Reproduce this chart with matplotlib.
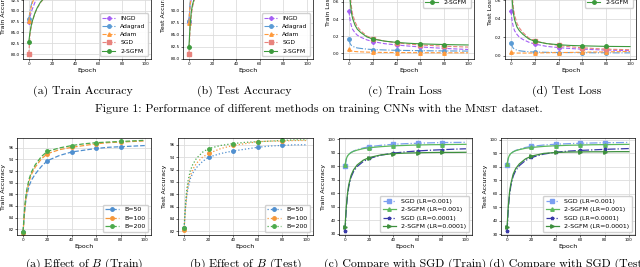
import numpy as np
import matplotlib
matplotlib.use("Agg")
import matplotlib.pyplot as plt

plt.rcParams['mathtext.fontset'] = 'cm'

epochs = [0, 1, 2, 3, 5, 7, 10, 15, 20, 30, 40, 50, 60, 70, 80, 90, 100]
mark_at = [0, 8, 10, 12, 14]   # markers at epoch 0, 20, 40, 60, 80

methods = ['INGD', 'Adagrad', 'Adam', 'SGD', '2-SGFM']

train_acc = {
    'INGD':    [87.3, 88.6, 89.6, 90.4, 91.8, 93.0, 94.2, 95.3, 96.0, 96.8, 97.3, 97.6, 97.9, 98.1, 98.3, 98.4, 98.5],
    'Adagrad': [88.0, 90.0, 91.3, 92.2, 93.5, 94.4, 95.4, 96.4, 97.0, 97.7, 98.1, 98.4, 98.6, 98.7, 98.8, 98.9, 99.0],
    'Adam':    [87.6, 89.5, 90.8, 91.8, 93.2, 94.2, 95.2, 96.3, 97.0, 97.8, 98.3, 98.6, 98.8, 99.0, 99.1, 99.2, 99.2],
    'SGD':     [80.0, 84.5, 86.3, 87.5, 89.2, 90.5, 91.9, 93.4, 94.4, 95.6, 96.3, 96.8, 97.1, 97.4, 97.6, 97.7, 97.8],
    '2-SGFM':  [82.9, 85.0, 86.5, 87.6, 89.3, 90.6, 92.0, 93.5, 94.5, 95.8, 96.6, 97.1, 97.5, 97.8, 98.0, 98.2, 98.3],
}
test_acc = {
    'INGD':    [87.8, 91.0, 92.5, 93.3, 94.3, 95.0, 95.6, 96.3, 96.7, 97.2, 97.5, 97.7, 97.8, 97.9, 98.0, 98.1, 98.2],
    'Adagrad': [88.0, 91.5, 93.0, 93.8, 94.8, 95.4, 96.0, 96.7, 97.1, 97.6, 98.0, 98.2, 98.3, 98.4, 98.5, 98.5, 98.6],
    'Adam':    [87.6, 91.3, 92.9, 93.8, 94.9, 95.5, 96.2, 96.9, 97.3, 97.8, 98.1, 98.3, 98.4, 98.5, 98.5, 98.6, 98.6],
    'SGD':     [81.0, 86.0, 89.0, 90.8, 92.6, 93.6, 94.5, 95.4, 95.9, 96.5, 96.9, 97.2, 97.4, 97.5, 97.6, 97.7, 97.8],
    '2-SGFM':  [82.5, 87.0, 89.8, 91.3, 93.0, 94.0, 94.9, 95.8, 96.3, 96.9, 97.3, 97.5, 97.7, 97.8, 97.9, 98.0, 98.0],
}
train_loss = {
    'INGD':    [0.49, 0.38, 0.32, 0.28, 0.24, 0.21, 0.185, 0.155, 0.135, 0.11, 0.095, 0.082, 0.072, 0.063, 0.055, 0.048, 0.042],
    'Adagrad': [0.16, 0.11, 0.09, 0.08, 0.068, 0.06, 0.054, 0.046, 0.041, 0.036, 0.032, 0.030, 0.028, 0.026, 0.025, 0.024, 0.023],
    'Adam':    [0.045, 0.03, 0.025, 0.022, 0.018, 0.016, 0.014, 0.011, 0.009, 0.007, 0.006, 0.005, 0.004, 0.004, 0.003, 0.003, 0.003],
    'SGD':     [1.0, 0.70, 0.55, 0.46, 0.37, 0.31, 0.26, 0.20, 0.17, 0.14, 0.12, 0.105, 0.095, 0.088, 0.08, 0.075, 0.07],
    '2-SGFM':  [0.95, 0.62, 0.48, 0.41, 0.33, 0.28, 0.24, 0.19, 0.165, 0.14, 0.125, 0.115, 0.108, 0.104, 0.10, 0.097, 0.095],
}
test_loss = {
    'INGD':    [0.48, 0.37, 0.31, 0.27, 0.23, 0.20, 0.175, 0.145, 0.125, 0.10, 0.087, 0.077, 0.07, 0.065, 0.06, 0.057, 0.054],
    'Adagrad': [0.14, 0.10, 0.08, 0.07, 0.06, 0.053, 0.048, 0.042, 0.039, 0.036, 0.034, 0.033, 0.032, 0.031, 0.031, 0.03, 0.03],
    'Adam':    [0.04, 0.032, 0.03, 0.029, 0.028, 0.028, 0.028, 0.028, 0.029, 0.031, 0.033, 0.035, 0.037, 0.039, 0.041, 0.043, 0.045],
    'SGD':     [0.95, 0.66, 0.52, 0.44, 0.35, 0.30, 0.25, 0.19, 0.16, 0.13, 0.11, 0.095, 0.085, 0.077, 0.07, 0.067, 0.064],
    '2-SGFM':  [0.92, 0.60, 0.46, 0.39, 0.31, 0.27, 0.23, 0.18, 0.155, 0.13, 0.118, 0.11, 0.106, 0.103, 0.10, 0.099, 0.098],
}

batch_labels = ['B=50', 'B=100', 'B=200']
b_train = {
    'B=50':  [81.6, 84.5, 86.5, 87.8, 89.5, 90.5, 91.5, 92.8, 93.8, 94.7, 95.3, 95.6, 95.9, 96.1, 96.2, 96.3, 96.4],
    'B=100': [81.3, 84.5, 86.8, 88.3, 90.3, 91.5, 92.7, 94.1, 95.0, 95.7, 96.1, 96.4, 96.7, 96.9, 97.0, 97.1, 97.2],
    'B=200': [81.6, 85.0, 87.3, 88.8, 90.7, 91.9, 93.1, 94.5, 95.4, 96.0, 96.4, 96.7, 96.9, 97.0, 97.1, 97.2, 97.3],
}
b_test = {
    'B=50':  [82.5, 85.5, 87.5, 88.8, 90.5, 91.4, 92.3, 93.3, 94.0, 94.6, 95.0, 95.3, 95.6, 95.8, 95.9, 96.0, 96.0],
    'B=100': [82.2, 85.5, 87.7, 89.2, 91.0, 92.0, 93.0, 94.0, 94.6, 95.4, 95.9, 96.2, 96.5, 96.6, 96.6, 96.7, 96.7],
    'B=200': [82.6, 86.3, 88.5, 90.0, 91.8, 92.8, 93.8, 94.8, 95.4, 95.9, 96.2, 96.4, 96.5, 96.6, 96.7, 96.8, 96.8],
}

lr_labels = ['SGD (LR=0.001)', '2-SGFM (LR=0.001)', 'SGD (LR=0.0001)', '2-SGFM (LR=0.0001)']
lr_train = {
    'SGD (LR=0.001)':     [80, 85, 87.5, 88.8, 90.3, 91.3, 92.3, 93.6, 94.5, 95.6, 96.3, 96.8, 97.1, 97.4, 97.6, 97.7, 97.8],
    '2-SGFM (LR=0.001)':  [81, 85.5, 87.6, 88.8, 90.2, 91.1, 92.0, 93.1, 93.8, 94.6, 95.2, 95.5, 95.8, 96.0, 96.1, 96.2, 96.3],
    'SGD (LR=0.0001)':    [32, 48, 58, 64.5, 72, 76, 79.8, 83.5, 85.8, 88.3, 89.8, 90.7, 91.4, 91.9, 92.3, 92.7, 93.0],
    '2-SGFM (LR=0.0001)': [35, 50, 59.5, 66, 73.3, 77.3, 81, 84.5, 86.5, 88.5, 89.4, 89.8, 90.0, 90.2, 90.3, 90.3, 90.4],
}
lr_test = {
    'SGD (LR=0.001)':     [81, 86, 88.3, 89.6, 91, 92, 92.9, 94.2, 95.0, 96.0, 96.6, 97.0, 97.3, 97.5, 97.7, 97.8, 97.9],
    '2-SGFM (LR=0.001)':  [82, 86.5, 88.5, 89.7, 91, 91.8, 92.6, 93.6, 94.2, 95.0, 95.5, 95.8, 96.0, 96.2, 96.3, 96.4, 96.5],
    'SGD (LR=0.0001)':    [32.5, 49, 59, 65.5, 73, 77, 80.7, 84.5, 86.8, 89.3, 90.7, 91.5, 92.0, 92.4, 92.8, 93.1, 93.4],
    '2-SGFM (LR=0.0001)': [35.5, 51, 61, 67, 74.5, 78.5, 82, 85.7, 87.8, 89.8, 90.5, 90.8, 90.9, 91.0, 91.0, 91.1, 91.1],
}

# styles
method_style = {
    'INGD':    dict(color='#a55ff5', ls='--', marker='P'),
    'Adagrad': dict(color='#5a9bd5', ls='-.', marker='o'),
    'Adam':    dict(color='#ff9a3c', ls='--', marker='^'),
    'SGD':     dict(color='#e8837d', ls='--', marker='s'),
    '2-SGFM':  dict(color='#3c9a3c', ls='-', marker='o'),
}
batch_colors = {'B=50': '#4f8fcf', 'B=100': '#f5973a', 'B=200': '#4caa4c'}
lr_style = {
    'SGD (LR=0.001)':     dict(color='#7b9ff0', ls='-.', marker='s'),
    '2-SGFM (LR=0.001)':  dict(color='#5cb85c', ls='-', marker='^'),
    'SGD (LR=0.0001)':    dict(color='#3a3aa8', ls='-.', marker='*'),
    '2-SGFM (LR=0.0001)': dict(color='#3d8f3d', ls='-', marker='>'),
}

W, H = 640, 267
fig = plt.figure(figsize=(W / 100, H / 100), dpi=100)
fig.patch.set_facecolor('white')


def px_axes(left, top, right, bottom):
    return fig.add_axes([left / W, 1 - bottom / H, (right - left) / W, (bottom - top) / H])


def style_axes(ax, ylabel, ylim):
    ax.set_xlim(-5, 105)
    ax.set_ylim(*ylim)
    ax.set_xticks([0, 20, 40, 60, 80, 100])
    ax.grid(True, color='#dddddd', linewidth=0.6)
    ax.set_axisbelow(True)
    ax.tick_params(labelsize=3.0, length=1.5, width=0.4, pad=1)
    for s in ax.spines.values():
        s.set_linewidth(0.5)
    ax.set_xlabel('Epoch', fontsize=4.5, labelpad=1)
    ax.set_ylabel(ylabel, fontsize=4.5, labelpad=1.5)


def legend(ax, loc, size=4.3):
    ax.legend(loc=loc, fontsize=size, handlelength=2.2, borderpad=0.4,
              labelspacing=0.5, framealpha=0.9, edgecolor='#cccccc')


# top row
top_panels = [
    (train_acc, 'Train Accuracy', (78.85, 101.3), (23, 151), 'lower right', '(a) Train Accuracy'),
    (test_acc, 'Test Accuracy', (80.0, 100.2), (183, 313), 'lower right', '(b) Test Accuracy'),
    (train_loss, 'Train Loss', (-0.07, 1.07), (343, 474), 'upper right', '(c) Train Loss'),
    (test_loss, 'Test Loss', (-0.036, 1.01), (505, 636), 'upper right', '(d) Test Loss'),
]
for data, ylabel, ylim, (l, r), loc, cap in top_panels:
    ax = px_axes(l, 59 - 97, r, 59)
    for m in methods:
        st = method_style[m]
        ax.plot(epochs, data[m], color=st['color'], ls=st['ls'], marker=st['marker'],
                markevery=mark_at, markersize=2.5, linewidth=0.8, label=m)
    style_axes(ax, ylabel, ylim)
    legend(ax, loc)
    fig.text(((l + r) / 2 - 4) / W, 1 - 91 / H, cap, fontsize=8.5, family='cmr10',
             ha='center', va='center')

# figure caption with small caps MNIST
cap1 = fig.text(95 / W, 1 - 112 / H, 'Figure 1: Performance of different methods on training CNNs with the M',
                fontsize=8.5, family='cmr10', va='baseline')
a2 = plt.annotate('NIST', xy=(1, 0), xycoords=cap1, fontsize=6.6, family='cmr10',
                  va='bottom', annotation_clip=False)
plt.annotate(' dataset.', xy=(1, 0), xycoords=a2, fontsize=8.5, family='cmr10',
             va='bottom', annotation_clip=False)

# bottom row
bottom_panels = [
    (b_train, batch_labels, 'Train Accuracy', (81.0, 97.7), (17, 151), 'Train'),
    (b_test, batch_labels, 'Test Accuracy', (81.4, 97.1), (178, 313), 'Test'),
]
for idx, (data, labels, ylabel, ylim, (l, r), which) in enumerate(bottom_panels):
    ax = px_axes(l, 138, r, 235)
    ls = '--' if which == 'Train' else ':'
    for lab in labels:
        ax.plot(epochs, data[lab], color=batch_colors[lab], ls=ls, marker='o',
                markevery=mark_at, markersize=2.5, linewidth=0.9, label=lab)
    style_axes(ax, ylabel, ylim)
    legend(ax, 'lower right', 4.5)
    letter = 'ab'[idx]
    fig.text(((l + r) / 2) / W, 1 - 264 / H, '(%s) Effect of $B$ (%s)' % (letter, which),
             fontsize=8.5, family='cmr10', ha='center', va='center')

lr_panels = [
    (lr_train, 'Train Accuracy', (29.0, 101.0), (339, 472), 'Train', 'c'),
    (lr_test, 'Test Accuracy', (29.5, 101.2), (501, 635), 'Test', 'd'),
]
for data, ylabel, ylim, (l, r), which, letter in lr_panels:
    ax = px_axes(l, 138, r, 235)
    for lab in lr_labels:
        st = lr_style[lab]
        ax.plot(epochs, data[lab], color=st['color'], ls=st['ls'], marker=st['marker'],
                markevery=mark_at, markersize=2.5, linewidth=0.9, label=lab)
    style_axes(ax, ylabel, ylim)
    ax.set_yticks([30, 40, 50, 60, 70, 80, 90, 100])
    legend(ax, 'lower right', 4.5)
    fig.text(((l + r) / 2) / W, 1 - 264 / H, '(%s) Compare with SGD (%s)' % (letter, which),
             fontsize=8.5, family='cmr10', ha='center', va='center')

fig.savefig('out.png', dpi=100)
